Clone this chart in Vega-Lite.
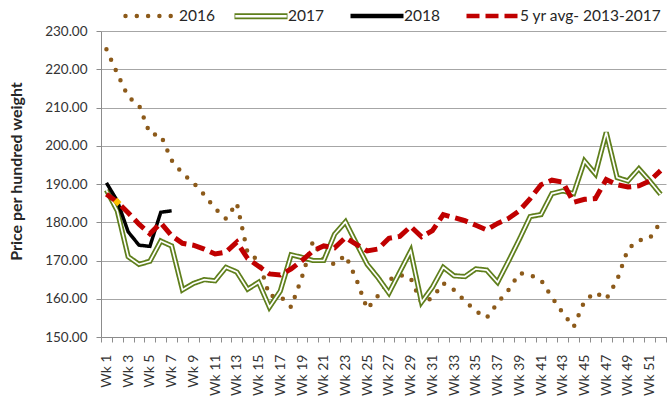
{
  "$schema": "https://vega.github.io/schema/vega-lite/v6.json",
  "autosize": {"type": "none"},
  "width": 565,
  "height": 306,
  "padding": {"left": 101, "top": 31, "right": 4, "bottom": 65},
  "background": "white",
  "config": {
    "view": {"stroke": null},
    "font": "Lato",
    "axis": {"labelFont": "Lato", "titleFont": "Lato", "labelColor": "#333333", "titleColor": "#262626", "domainColor": "#8c8c8c", "tickColor": "#8c8c8c", "gridColor": "#a6a6a6"}
  },
  "datasets": {
    "main": [
      {"s":"2016","w":1,"v":225.2},{"s":"2016","w":2,"v":218.9},{"s":"2016","w":3,"v":212.8},{"s":"2016","w":4,"v":210.6},{"s":"2016","w":5,"v":203.1},{"s":"2016","w":6,"v":202.8},{"s":"2016","w":7,"v":196.2},{"s":"2016","w":8,"v":192.8},{"s":"2016","w":9,"v":190.3},{"s":"2016","w":10,"v":187.2},{"s":"2016","w":11,"v":183.6},{"s":"2016","w":12,"v":180.9},{"s":"2016","w":13,"v":185.0},{"s":"2016","w":14,"v":171.9},{"s":"2016","w":15,"v":170.1},{"s":"2016","w":16,"v":160.7},{"s":"2016","w":17,"v":160.7},{"s":"2016","w":18,"v":157.8},{"s":"2016","w":19,"v":165.7},{"s":"2016","w":20,"v":175.0},{"s":"2016","w":21,"v":170.1},{"s":"2016","w":22,"v":169.0},{"s":"2016","w":23,"v":171.4},{"s":"2016","w":24,"v":165.1},{"s":"2016","w":25,"v":157.3},{"s":"2016","w":26,"v":160.8},{"s":"2016","w":27,"v":164.9},{"s":"2016","w":28,"v":166.2},{"s":"2016","w":29,"v":165.4},{"s":"2016","w":30,"v":158.9},{"s":"2016","w":31,"v":160.2},{"s":"2016","w":32,"v":164.1},{"s":"2016","w":33,"v":162.3},{"s":"2016","w":34,"v":159.4},{"s":"2016","w":35,"v":156.8},{"s":"2016","w":36,"v":155.0},{"s":"2016","w":37,"v":158.9},{"s":"2016","w":38,"v":162.3},{"s":"2016","w":39,"v":166.7},{"s":"2016","w":40,"v":166.2},{"s":"2016","w":41,"v":164.9},{"s":"2016","w":42,"v":160.4},{"s":"2016","w":43,"v":156.3},{"s":"2016","w":44,"v":152.6},{"s":"2016","w":45,"v":159.4},{"s":"2016","w":46,"v":161.7},{"s":"2016","w":47,"v":159.9},{"s":"2016","w":48,"v":164.9},{"s":"2016","w":49,"v":173.0},{"s":"2016","w":50,"v":175.3},{"s":"2016","w":51,"v":175.8},{"s":"2016","w":52,"v":180.0},
      {"s":"2017","w":1,"v":188.4},{"s":"2017","w":2,"v":183.0},{"s":"2017","w":3,"v":171.0},{"s":"2017","w":4,"v":169.0},{"s":"2017","w":5,"v":169.8},{"s":"2017","w":6,"v":175.1},{"s":"2017","w":7,"v":173.8},{"s":"2017","w":8,"v":162.3},{"s":"2017","w":9,"v":164.0},{"s":"2017","w":10,"v":165.0},{"s":"2017","w":11,"v":164.7},{"s":"2017","w":12,"v":168.2},{"s":"2017","w":13,"v":167.0},{"s":"2017","w":14,"v":162.5},{"s":"2017","w":15,"v":164.3},{"s":"2017","w":16,"v":157.8},{"s":"2017","w":17,"v":162.0},{"s":"2017","w":18,"v":171.5},{"s":"2017","w":19,"v":170.8},{"s":"2017","w":20,"v":170.0},{"s":"2017","w":21,"v":170.0},{"s":"2017","w":22,"v":176.9},{"s":"2017","w":23,"v":180.1},{"s":"2017","w":24,"v":174.5},{"s":"2017","w":25,"v":169.0},{"s":"2017","w":26,"v":165.5},{"s":"2017","w":27,"v":161.5},{"s":"2017","w":28,"v":167.0},{"s":"2017","w":29,"v":172.5},{"s":"2017","w":30,"v":159.1},{"s":"2017","w":31,"v":163.0},{"s":"2017","w":32,"v":168.2},{"s":"2017","w":33,"v":166.0},{"s":"2017","w":34,"v":165.8},{"s":"2017","w":35,"v":167.8},{"s":"2017","w":36,"v":167.5},{"s":"2017","w":37,"v":164.3},{"s":"2017","w":38,"v":169.8},{"s":"2017","w":39,"v":175.5},{"s":"2017","w":40,"v":181.5},{"s":"2017","w":41,"v":182.0},{"s":"2017","w":42,"v":187.5},{"s":"2017","w":43,"v":188.2},{"s":"2017","w":44,"v":187.5},{"s":"2017","w":45,"v":196.0},{"s":"2017","w":46,"v":192.6},{"s":"2017","w":47,"v":203.5},{"s":"2017","w":48,"v":191.7},{"s":"2017","w":49,"v":190.8},{"s":"2017","w":50,"v":194.0},{"s":"2017","w":51,"v":190.8},{"s":"2017","w":52,"v":187.3},
      {"s":"2018","w":1,"v":190.3},{"s":"2018","w":2,"v":185.6},{"s":"2018","w":3,"v":177.5},{"s":"2018","w":4,"v":174.0},{"s":"2018","w":5,"v":173.7},{"s":"2018","w":6,"v":182.6},{"s":"2018","w":7,"v":183.0},
      {"s":"5 yr avg- 2013-2017","w":1,"v":187.3},{"s":"5 yr avg- 2013-2017","w":2,"v":185.3},{"s":"5 yr avg- 2013-2017","w":3,"v":182.5},{"s":"5 yr avg- 2013-2017","w":4,"v":179.5},{"s":"5 yr avg- 2013-2017","w":5,"v":177.0},{"s":"5 yr avg- 2013-2017","w":6,"v":179.8},{"s":"5 yr avg- 2013-2017","w":7,"v":176.5},{"s":"5 yr avg- 2013-2017","w":8,"v":174.5},{"s":"5 yr avg- 2013-2017","w":9,"v":174.0},{"s":"5 yr avg- 2013-2017","w":10,"v":173.0},{"s":"5 yr avg- 2013-2017","w":11,"v":171.7},{"s":"5 yr avg- 2013-2017","w":12,"v":172.2},{"s":"5 yr avg- 2013-2017","w":13,"v":174.8},{"s":"5 yr avg- 2013-2017","w":14,"v":170.5},{"s":"5 yr avg- 2013-2017","w":15,"v":168.5},{"s":"5 yr avg- 2013-2017","w":16,"v":166.5},{"s":"5 yr avg- 2013-2017","w":17,"v":166.2},{"s":"5 yr avg- 2013-2017","w":18,"v":167.8},{"s":"5 yr avg- 2013-2017","w":19,"v":170.0},{"s":"5 yr avg- 2013-2017","w":20,"v":172.5},{"s":"5 yr avg- 2013-2017","w":21,"v":173.8},{"s":"5 yr avg- 2013-2017","w":22,"v":173.3},{"s":"5 yr avg- 2013-2017","w":23,"v":176.0},{"s":"5 yr avg- 2013-2017","w":24,"v":174.2},{"s":"5 yr avg- 2013-2017","w":25,"v":172.5},{"s":"5 yr avg- 2013-2017","w":26,"v":173.0},{"s":"5 yr avg- 2013-2017","w":27,"v":175.8},{"s":"5 yr avg- 2013-2017","w":28,"v":176.3},{"s":"5 yr avg- 2013-2017","w":29,"v":178.9},{"s":"5 yr avg- 2013-2017","w":30,"v":176.2},{"s":"5 yr avg- 2013-2017","w":31,"v":177.8},{"s":"5 yr avg- 2013-2017","w":32,"v":182.0},{"s":"5 yr avg- 2013-2017","w":33,"v":181.2},{"s":"5 yr avg- 2013-2017","w":34,"v":180.4},{"s":"5 yr avg- 2013-2017","w":35,"v":179.2},{"s":"5 yr avg- 2013-2017","w":36,"v":178.0},{"s":"5 yr avg- 2013-2017","w":37,"v":179.7},{"s":"5 yr avg- 2013-2017","w":38,"v":181.0},{"s":"5 yr avg- 2013-2017","w":39,"v":183.0},{"s":"5 yr avg- 2013-2017","w":40,"v":186.2},{"s":"5 yr avg- 2013-2017","w":41,"v":189.8},{"s":"5 yr avg- 2013-2017","w":42,"v":191.0},{"s":"5 yr avg- 2013-2017","w":43,"v":190.5},{"s":"5 yr avg- 2013-2017","w":44,"v":185.2},{"s":"5 yr avg- 2013-2017","w":45,"v":186.0},{"s":"5 yr avg- 2013-2017","w":46,"v":186.2},{"s":"5 yr avg- 2013-2017","w":47,"v":191.2},{"s":"5 yr avg- 2013-2017","w":48,"v":189.8},{"s":"5 yr avg- 2013-2017","w":49,"v":189.2},{"s":"5 yr avg- 2013-2017","w":50,"v":189.5},{"s":"5 yr avg- 2013-2017","w":51,"v":190.8},{"s":"5 yr avg- 2013-2017","w":52,"v":193.5}
    ],
    "hl": [{"w": 2, "v": 185.3}]
  },
  "data": {"name": "main"},
  "encoding": {
    "x": {
      "field": "w", "type": "quantitative",
      "scale": {"domain": [0.5, 52.5], "nice": false, "zero": false},
      "axis": {
        "title": null,
        "values": [0.5,1.5,2.5,3.5,4.5,5.5,6.5,7.5,8.5,9.5,10.5,11.5,12.5,13.5,14.5,15.5,16.5,17.5,18.5,19.5,20.5,21.5,22.5,23.5,24.5,25.5,26.5,27.5,28.5,29.5,30.5,31.5,32.5,33.5,34.5,35.5,36.5,37.5,38.5,39.5,40.5,41.5,42.5,43.5,44.5,45.5,46.5,47.5,48.5,49.5,50.5,51.5,52.5],
        "labelExpr": "((datum.value + 0.5) % 2 == 1 && datum.value < 52) ? 'Wk ' + (datum.value + 0.5) : ''",
        "labelAngle": -90,
        "labelAlign": "right",
        "labelBaseline": "middle",
        "labelOffset": 5.43,
        "labelOverlap": false,
        "labelFlush": false,
        "labelBound": false,
        "labelFontSize": 14,
        "labelPadding": 12,
        "tickSize": 5,
        "grid": false
      }
    },
    "y": {
      "field": "v", "type": "quantitative",
      "scale": {"domain": [150, 230], "nice": false, "zero": false},
      "axis": {
        "title": "Price per hundred weight",
        "titleFontSize": 16,
        "titleFontWeight": "bold",
        "titlePadding": 20,
        "titleY": 140,
        "values": [150,160,170,180,190,200,210,220,230],
        "format": ".2f",
        "labelFontSize": 13.5,
        "labelPadding": 9,
        "tickSize": 5,
        "grid": true,
        "labelFlush": false
      }
    }
  },
  "layer": [
    {
      "transform": [{"filter": "datum.s === '2016'"}],
      "mark": {"type": "line", "strokeWidth": 4.5, "strokeCap": "round"},
      "encoding": {
        "color": {"field": "s", "type": "nominal", "scale": {"domain": ["2016","2017","2018","5 yr avg- 2013-2017"], "range": ["#8c5a1a","#5f7f1c","#000000","#c00000"]},
          "legend": {
            "orient": "none", "legendX": 22, "legendY": -44, "direction": "horizontal", "title": null,
            "symbolType": "stroke", "symbolSize": 2809, "symbolStrokeWidth": 4.5, "symbolOffset": 0,
            "labelFont": "Lato", "labelFontSize": 15.5, "labelColor": "#262626", "labelOffset": -2, "columnPadding": 17,
            "encode": {"symbols": {"update": {
              "strokeCap": {"signal": "datum.value === '2016' ? 'round' : 'butt'"},
              "shape": {"signal": "datum.value === '2017' ? 'M-1,-0.11L1,-0.11L1,-0.05L-1,-0.05ZM-1,0.05L1,0.05L1,0.11L-1,0.11ZM-1,-0.05L-0.97,-0.05L-0.97,0.05L-1,0.05ZM0.97,-0.05L1,-0.05L1,0.05L0.97,0.05Z' : 'stroke'"},
              "fill": {"signal": "datum.value === '2017' ? '#5f7f1c' : 'transparent'"},
              "fillOpacity": {"signal": "datum.value === '2017' ? 1 : 0"},
              "strokeOpacity": {"signal": "datum.value === '2017' ? 0 : 1"}
            }}}
          }},
        "strokeDash": {"field": "s", "type": "nominal", "scale": {"domain": ["2016","2017","2018","5 yr avg- 2013-2017"], "range": [[0,11.3],[1,0],[1,0],[13,6]]}}
      }
    },
    {
      "transform": [{"filter": "datum.s === '2017'"}],
      "mark": {"type": "line", "strokeWidth": 5.2, "strokeJoin": "miter"},
      "encoding": {
        "color": {"field": "s", "type": "nominal"},
        "strokeDash": {"field": "s", "type": "nominal"}
      }
    },
    {
      "transform": [{"filter": "datum.s === '2017'"}],
      "mark": {"type": "line", "strokeWidth": 1.7, "color": "#ffffff", "strokeJoin": "miter"},
      "encoding": {}
    },
    {
      "transform": [{"filter": "datum.s === '2018'"}],
      "mark": {"type": "line", "strokeWidth": 3.5},
      "encoding": {
        "color": {"field": "s", "type": "nominal"},
        "strokeDash": {"field": "s", "type": "nominal"}
      }
    },
    {
      "transform": [{"filter": "datum.s === '5 yr avg- 2013-2017'"}],
      "mark": {"type": "line", "strokeWidth": 5},
      "encoding": {
        "color": {"field": "s", "type": "nominal"},
        "strokeDash": {"field": "s", "type": "nominal"}
      }
    },
    {
      "data": {"name": "hl"},
      "mark": {"type": "point", "shape": "diamond", "filled": true, "color": "#ffc000", "size": 70, "opacity": 1},
      "encoding": {}
    }
  ]
}
